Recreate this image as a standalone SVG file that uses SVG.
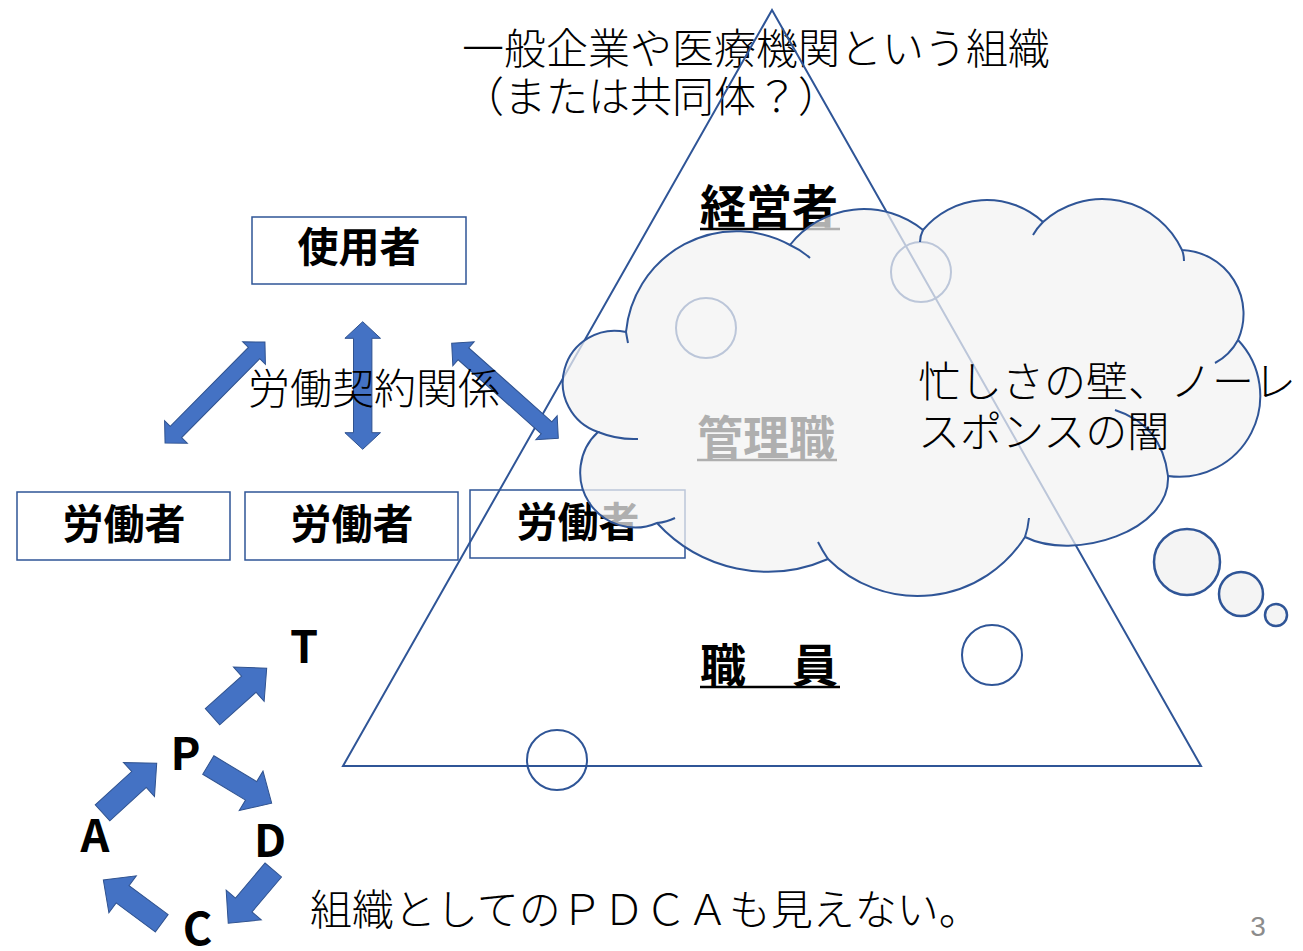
<svg xmlns="http://www.w3.org/2000/svg" width="1303" height="951" viewBox="0 0 1303 951">
<defs>
<style>
.jp{font-family:"Noto Sans CJK JP","Noto Sans",sans-serif;fill:#000}
.lt{font-weight:300;font-size:42px}
.bd{font-weight:700}
.box{fill:none;stroke:#2f5597;stroke-width:1.5}
.tri{fill:none;stroke:#2f5597;stroke-width:2}
.ring{fill:none;stroke:#2f5597;stroke-width:2}
.arr{fill:#4472c4;stroke:#2f528f;stroke-width:1}
.ul{stroke:#000;stroke-width:2.5}
.cl{fill:#f2f2f2;fill-opacity:0.72;stroke:#2f5597;stroke-width:2}
.stub{fill:none;stroke:#2f5597;stroke-width:2}
.bub{fill:#f4f4f4;stroke:#2f5597;stroke-width:2.5}
.ltr{font-family:"Noto Sans CJK JP","Noto Sans",sans-serif;font-weight:700;font-size:45px;text-anchor:middle;fill:#000}
</style>
</defs>
<rect width="1303" height="951" fill="#fff"/>

<g id="title">
<text class="jp lt" x="462" y="64">一般企業や医療機関という組織</text>
<text class="jp lt" x="462" y="112">（または共同体？）</text>
</g>

<g id="organization-triangle">
<polygon class="tri" points="772,10 1201,766 343,766"/>
</g>

<g id="node-keieisha">
<text class="jp bd" x="700" y="223" font-size="46">経営者</text>
<line class="ul" x1="700" y1="229" x2="840" y2="229"/>
</g>

<g id="node-kanrishoku">
<text class="jp bd" x="697" y="454" font-size="46">管理職</text>
<line class="ul" x1="697" y1="460" x2="837" y2="460"/>
</g>

<g id="node-shokuin">
<text class="jp bd" x="700" y="682" font-size="46">職　員</text>
<line class="ul" x1="700" y1="687" x2="840" y2="687"/>
</g>

<g id="circles">
<circle class="ring" cx="706" cy="328" r="30"/>
<circle class="ring" cx="921" cy="272" r="30"/>
<circle class="ring" cx="557" cy="760" r="30"/>
<circle class="ring" cx="992" cy="655" r="30"/>
</g>

<g id="node-shiyosha">
<rect class="box" x="252" y="217" width="214" height="67"/>
<text class="jp bd" x="359" y="262" font-size="41" text-anchor="middle">使用者</text>
</g>

<g id="node-rodosha-1">
<rect class="box" x="17" y="492" width="213" height="68"/>
<text class="jp bd" x="124" y="539" font-size="41" text-anchor="middle">労働者</text>
</g>
<g id="node-rodosha-2">
<rect class="box" x="245" y="492" width="213" height="68"/>
<text class="jp bd" x="352" y="539" font-size="41" text-anchor="middle">労働者</text>
</g>
<g id="node-rodosha-3">
<rect class="box" x="470" y="490" width="215" height="68"/>
<text class="jp bd" x="578" y="537" font-size="41" text-anchor="middle">労働者</text>
</g>

<g id="connectors">
<polygon class="arr" transform="translate(215,392.5) rotate(-45.3)" points="-71,0 -55.5,-16 -55.5,-8 55.5,-8 55.5,-16 71,0 55.5,16 55.5,8 -55.5,8 -55.5,16"/>
<polygon class="arr" transform="translate(362.7,385.5)" points="0,-63.8 17.8,-47.2 9.2,-47.2 9.2,47.2 17.8,47.2 0,63.8 -17.8,47.2 -9.2,47.2 -9.2,-47.2 -17.8,-47.2"/>
<polygon class="arr" transform="translate(505,390.8) rotate(41.7)" points="-71.4,0 -55.6,-16 -55.6,-8 55.6,-8 55.6,-16 71.4,0 55.6,16 55.6,8 -55.6,8 -55.6,16"/>
<polygon class="arr" transform="translate(102.5,812.8) rotate(-42.4)" points="0,-10.8 49.4,-10.8 49.4,-23 73.4,0 49.4,23 49.4,10.8 0,10.8"/>
<polygon class="arr" transform="translate(212.5,716.7) rotate(-41.8)" points="0,-10.8 48.7,-10.8 48.7,-23 72.7,0 48.7,23 48.7,10.8 0,10.8"/>
<polygon class="arr" transform="translate(208.3,765) rotate(31.1)" points="0,-10.8 50,-10.8 50,-23 74,0 50,23 50,10.8 0,10.8"/>
<polygon class="arr" transform="translate(273.3,870) rotate(130.2)" points="0,-10.8 45.8,-10.8 45.8,-23 69.8,0 45.8,23 45.8,10.8 0,10.8"/>
<polygon class="arr" transform="translate(161.7,923.3) rotate(-143.4)" points="0,-10.8 48.7,-10.8 48.7,-23 72.7,0 48.7,23 48.7,10.8 0,10.8"/>
</g>

<g id="label-contract">
<text class="jp lt" x="248" y="404">労働契約関係</text>
</g>

<g id="node-cloud">
<path class="cl" d="M626,332 A111,111 0 0 1 790,245 A94,94 0 0 1 923,230 A83,83 0 0 1 1043,222 A88,88 0 0 1 1182,250 A64,64 0 0 1 1238,340 A81,81 0 0 1 1168,476 C1171,531 1074.5,561.8 1025,537 A127,127 0 0 1 828,559 A150,150 0 0 1 657,523 A55,55 0 0 1 598,432 A52,52 0 0 1 626,332 Z"/>
<path class="stub" d="M626,332 Q627,338 628,343 M790,245 Q801,250 810,258 M923,230 Q920,236 920,242 M1043,222 Q1037,228 1033,235 M1182,250 Q1184,255 1184,261 M1238,340 Q1230,355 1215,363 M1115,410 Q1162,425 1168,476 M1025,537 Q1028,528 1029,518 M828,559 Q822,550 818,542 M657,523 Q667,522 675,518 M598,432 Q618,440 638,439"/>
<circle class="bub" cx="1187" cy="562" r="33"/>
<circle class="bub" cx="1241" cy="594" r="22"/>
<circle class="bub" cx="1276" cy="615" r="11"/>
<text class="jp lt" x="918" y="397">忙しさの壁、ノーレ</text>
<text class="jp lt" x="918" y="447">スポンスの闇</text>
</g>

<g id="pdca">
<text class="ltr" x="304" y="663">T</text>
<text class="ltr" x="185.5" y="770">P</text>
<text class="ltr" x="270" y="857">D</text>
<text class="ltr" x="95" y="852">A</text>
<text class="ltr" x="197.5" y="945">C</text>
</g>

<g id="caption">
<text class="jp lt" x="310" y="925">組織としてのＰＤＣＡも見えない。</text>
</g>

<g id="page-number">
<text x="1258" y="936" font-family="Liberation Sans, sans-serif" font-size="28" fill="#8c8c8c" text-anchor="middle">3</text>
</g>
</svg>
